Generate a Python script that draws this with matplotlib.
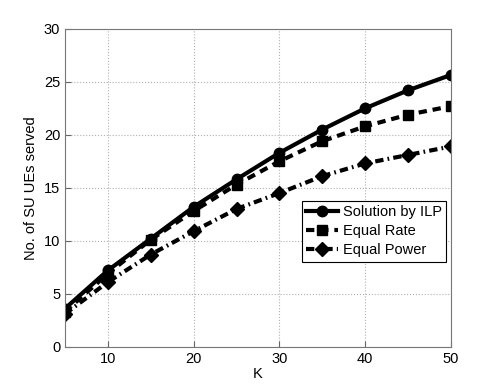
import matplotlib
matplotlib.use("Agg")
import matplotlib.pyplot as plt

plt.rcParams['font.family'] = ['Liberation Sans', 'DejaVu Sans']

# datos
K = [5, 10, 15, 20, 25, 30, 35, 40, 45, 50]
ilp = [3.6, 7.2, 10.2, 13.2, 15.8, 18.3, 20.5, 22.5, 24.2, 25.65]
equal_rate = [3.3, 6.9, 10.1, 12.8, 15.3, 17.5, 19.4, 20.8, 21.9, 22.7]
equal_power = [3.1, 6.1, 8.7, 10.9, 13.0, 14.5, 16.1, 17.3, 18.1, 18.9]

fig = plt.figure(figsize=(4.98, 3.9), dpi=100)
ax = fig.add_axes([0.1305, 0.111, 0.775, 0.815])

ax.plot(K, ilp, 'k-', marker='o', lw=3, ms=7.5, label='Solution by ILP')
ax.plot(K, equal_rate, 'k', dashes=(2, 1.4), marker='s', lw=3, ms=7.5, label='Equal Rate')
ax.plot(K, equal_power, 'k', dashes=(2, 1, 0.4, 1), marker='D', lw=3, ms=7, label='Equal Power')

ax.set_xlim(5, 50)
ax.set_ylim(0, 30)
ax.set_xticks([10, 20, 30, 40, 50])
ax.set_yticks(range(0, 31, 5))
ax.grid(True, linestyle=':', color='#b0b0b0', lw=0.8)
ax.tick_params(direction='in', labelsize=10.5, length=4, color='#666666')
for s in ax.spines.values():
    s.set_color('#777777')
ax.set_xlabel('K', fontsize=10.5, labelpad=1)
ax.set_ylabel('No. of SU UEs served', fontsize=10.5)

leg = ax.legend(loc='lower right', bbox_to_anchor=(0.987, 0.267), fontsize=10.5,
                fancybox=False, edgecolor='k', framealpha=1, borderaxespad=0,
                handlelength=2.2, borderpad=0.3, labelspacing=0.35, handletextpad=0.3)
leg.get_frame().set_linewidth(0.8)

fig.savefig('out.png')
